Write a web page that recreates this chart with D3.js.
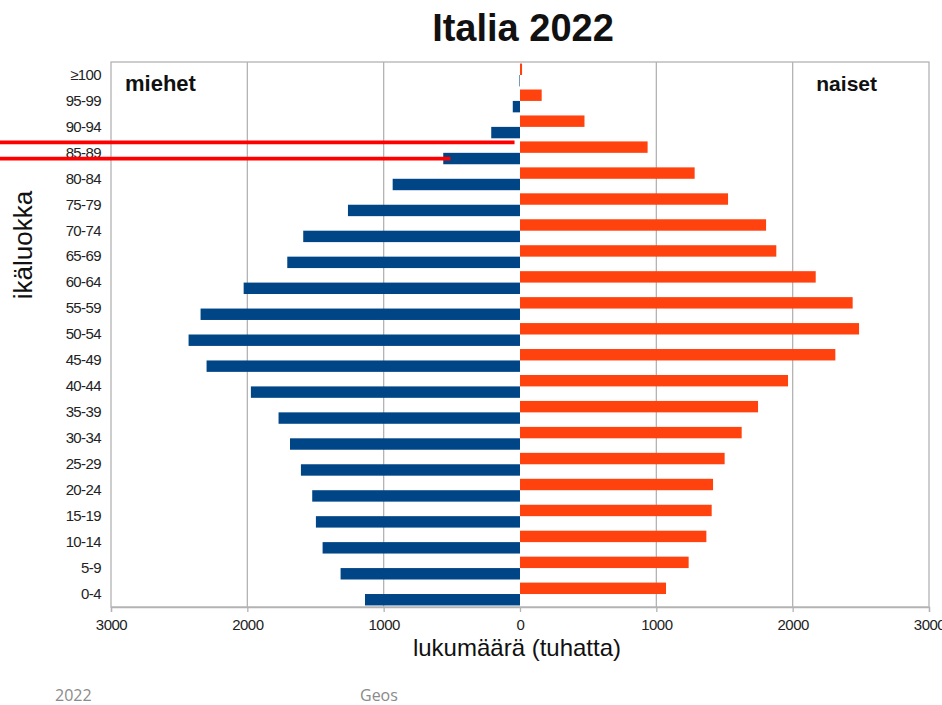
<!DOCTYPE html>
<html><head><meta charset="utf-8">
<script src="https://cdn.jsdelivr.net/npm/d3@7"></script>
<style>body{margin:0;background:#fff}svg{display:block}</style>
</head><body>
<svg id="c" width="942" height="705"></svg>
<script>
const categories = ["≥100","95-99","90-94","85-89","80-84","75-79","70-74","65-69","60-64","55-59","50-54","45-49","40-44","35-39","30-34","25-29","20-24","15-19","10-14","5-9","0-4"];
const men   = [4, 53, 211, 563, 934, 1262, 1590, 1707, 2027, 2343, 2431, 2299, 1974, 1771, 1687, 1607, 1524, 1497, 1448, 1316, 1137];
const women = [15, 159, 473, 936, 1281, 1526, 1805, 1880, 2169, 2440, 2487, 2313, 1966, 1746, 1626, 1501, 1416, 1406, 1367, 1237, 1071];
const xTicks = [-3000, -2000, -1000, 0, 1000, 2000, 3000];
const gridValues = [-2000, -1000, 1000, 2000];
// red annotation lines (value where each line ends, row it refers to, fraction of row step)
const markRow = "85-89";
const markEnds = [-40, -510];
const markOffsets = [0.1, 0.725];

const svg = d3.select("#c");
const L = 111, R = 929, T = 62, B = 607;
const x = d3.scaleLinear().domain([-3000, 3000]).range([L, R]);
const y = d3.scaleBand().domain(categories).range([T, B]).paddingInner(0.12).paddingOuter(0.06);
const sub = d3.scaleBand().domain(["w","m"]).range([0, y.bandwidth()]);
const grey = "#b3b3b3";

// gridlines
svg.append("g").selectAll("line").data(gridValues).join("line")
  .attr("x1", d => x(d)).attr("x2", d => x(d)).attr("y1", T).attr("y2", B)
  .attr("stroke", grey).attr("stroke-width", 1.3);
svg.append("rect").attr("x", L).attr("y", T).attr("width", R - L).attr("height", B - T)
  .attr("fill", "none").attr("stroke", grey).attr("stroke-width", 1.3);

// bars
svg.append("g").selectAll("rect").data(categories).join("rect")
  .attr("x", x(0)).attr("y", d => y(d) + sub("w"))
  .attr("width", (d, i) => x(women[i]) - x(0)).attr("height", sub.bandwidth())
  .attr("fill", "#ff420e");
svg.append("g").selectAll("rect").data(categories).join("rect")
  .attr("x", (d, i) => x(-men[i])).attr("y", d => y(d) + sub("m"))
  .attr("width", (d, i) => x(0) - x(-men[i])).attr("height", sub.bandwidth())
  .attr("fill", "#004586");

// x axis
const xa = svg.append("g").attr("transform", `translate(0,${B})`)
  .call(d3.axisBottom(x).tickValues(xTicks).tickFormat(d => Math.abs(d)).tickSizeOuter(0).tickSize(5).tickPadding(7));
xa.select(".domain").attr("stroke", grey).attr("stroke-width", 1.3);
xa.selectAll(".tick line").attr("stroke", grey).attr("stroke-width", 1.3);
xa.selectAll("text").attr("font-family", "'Liberation Sans Narrow','Liberation Sans',sans-serif")
  .attr("font-size", 15).attr("fill", "#222").attr("letter-spacing", "-0.5");

// y axis labels
const ya = svg.append("g").attr("transform", `translate(${L},0)`)
  .call(d3.axisLeft(y).tickSize(0).tickPadding(10));
ya.select(".domain").remove();
ya.selectAll("text").attr("font-family", "'Liberation Sans Narrow','Liberation Sans',sans-serif")
  .attr("font-size", 15).attr("fill", "#222").attr("letter-spacing", "-0.6");

// red annotation lines
svg.append("g").selectAll("line").data(markEnds).join("line")
  .attr("x1", 0).attr("x2", d => x(d))
  .attr("y1", (d, i) => y(markRow) - y.step() * y.paddingInner() / 2 + markOffsets[i] * y.step())
  .attr("y2", (d, i) => y(markRow) - y.step() * y.paddingInner() / 2 + markOffsets[i] * y.step())
  .attr("stroke", "#ff0000").attr("stroke-width", 3.8);

// texts
svg.append("text").attr("x", 523).attr("y", 41).attr("text-anchor", "middle")
  .attr("font-family", "'Liberation Sans',Arial,sans-serif").attr("font-weight", "bold").attr("font-size", 38)
  .attr("fill", "#111").text("Italia 2022");
svg.append("text").attr("x", 125).attr("y", 91)
  .attr("font-family", "'Liberation Sans',Arial,sans-serif").attr("font-weight", "bold").attr("font-size", 22)
  .attr("fill", "#111").text("miehet");
svg.append("text").attr("x", 877).attr("y", 91).attr("text-anchor", "end")
  .attr("font-family", "'Liberation Sans',Arial,sans-serif").attr("font-weight", "bold").attr("font-size", 21)
  .attr("fill", "#111").text("naiset");
svg.append("text").attr("transform", "translate(32,245) rotate(-90)").attr("text-anchor", "middle")
  .attr("font-family", "'Liberation Sans',Arial,sans-serif").attr("font-size", 26)
  .attr("fill", "#111").text("ikäluokka");
svg.append("text").attr("x", 517).attr("y", 656).attr("text-anchor", "middle")
  .attr("font-family", "'Liberation Sans',Arial,sans-serif").attr("font-size", 24)
  .attr("fill", "#111").text("lukumäärä (tuhatta)");
svg.append("text").attr("x", 55).attr("y", 701)
  .attr("font-family", "'Open Sans',sans-serif").attr("font-size", 16)
  .attr("fill", "#8a8a8a").text("2022");
svg.append("text").attr("x", 360).attr("y", 701)
  .attr("font-family", "'Open Sans',sans-serif").attr("font-size", 16)
  .attr("fill", "#8a8a8a").text("Geos");
</script>
</body></html>
